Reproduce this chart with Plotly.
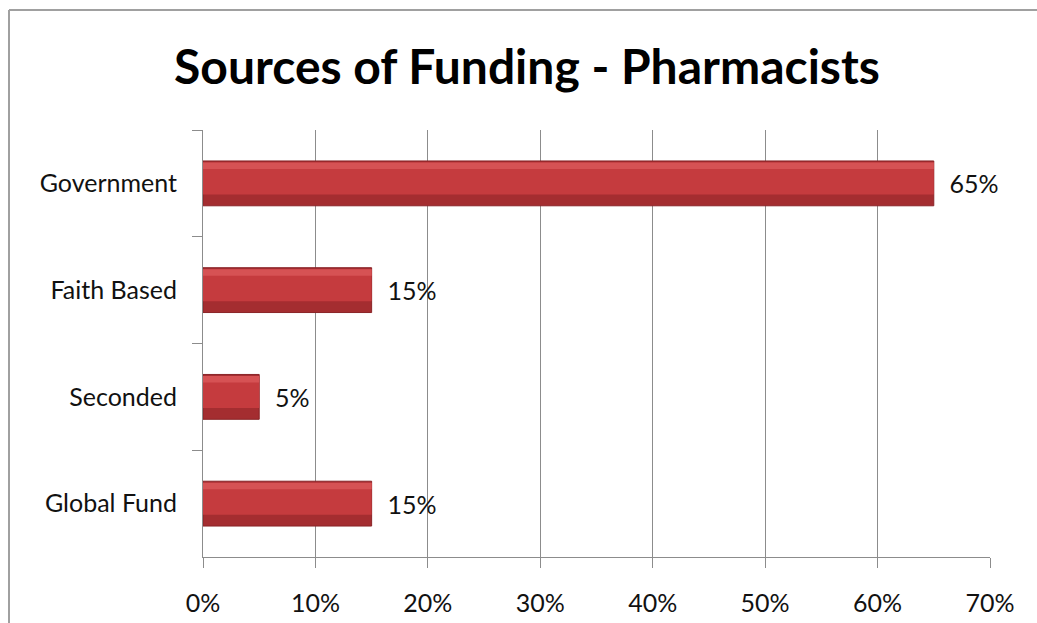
import plotly.graph_objects as go

categories = ["Government", "Faith Based", "Seconded", "Global Fund"]
values = [65, 15, 5, 15]
labels = ["65%", "15%", "5%", "15%"]
tick_vals = [0, 10, 20, 30, 40, 50, 60, 70]
tick_text = ["0%", "10%", "20%", "30%", "40%", "50%", "60%", "70%"]
title_text = "Sources of Funding - Pharmacists"

W, H = 1037, 623
L, R, T, B = 203, 47, 130, 66
pw, ph = W - L - R, H - T - B

def px(x):
    return (x - L) / pw

def py(y):
    return (H - B - y) / ph

BW = 0.42
fig = go.Figure()
# dark base (bottom shade)
fig.add_trace(go.Bar(
    y=categories, x=values, orientation="h", width=BW,
    marker=dict(color="#A42D30", line=dict(color="#8A2427", width=1)),
    text=labels, texttemplate="  %{text}", textposition="outside", cliponaxis=False,
    textfont=dict(family="Lato", size=25, color="#111111"),
    hoverinfo="skip", showlegend=False,
))
# main body
fig.add_trace(go.Bar(
    y=categories, x=values, orientation="h", width=0.30, offset=-BW / 2 + 0.015,
    marker=dict(color="#C53B3E", line=dict(width=0)),
    hoverinfo="skip", showlegend=False,
))
# top highlight
fig.add_trace(go.Bar(
    y=categories, x=values, orientation="h", width=0.06, offset=-BW / 2 + 0.015,
    marker=dict(color="#D65254", line=dict(width=0)),
    hoverinfo="skip", showlegend=False,
))

fig.update_layout(
    width=W, height=H,
    margin=dict(l=L, r=R, t=T, b=B, autoexpand=False),
    paper_bgcolor="white", plot_bgcolor="white",
    barmode="overlay",
    title=dict(text="<b>" + title_text + "</b>", x=px(527), xref="paper",
               xanchor="center", y=1 - 67 / H, yanchor="middle",
               font=dict(family="Lato", size=48, color="#000000")),
    font=dict(family="Lato", color="#111111"),
    xaxis=dict(range=[0, 70], tickvals=tick_vals, ticktext=tick_text,
               showgrid=True, gridcolor="#8C8C8C", gridwidth=1,
               showline=True, linecolor="#8C8C8C", linewidth=1,
               ticks="outside", ticklen=10, tickcolor="#8C8C8C",
               ticklabelstandoff=14, automargin=False,
               tickfont=dict(family="Lato", size=25, color="#111111"),
               zeroline=False, fixedrange=True),
    yaxis=dict(autorange="reversed", type="category",
               showline=True, linecolor="#8C8C8C", linewidth=1,
               ticks="outside", ticklen=10, tickcolor="#8C8C8C",
               tickson="boundaries", ticklabelstandoff=20, automargin=False,
               tickfont=dict(family="Lato", size=25, color="#111111"),
               showgrid=False, fixedrange=True),
    shapes=[
        dict(type="line", xref="paper", yref="paper",
             x0=px(9), x1=px(9), y0=py(H + 5), y1=py(10),
             line=dict(color="#A0A0A0", width=2)),
        dict(type="line", xref="paper", yref="paper",
             x0=px(9), x1=px(W + 5), y0=py(10), y1=py(10),
             line=dict(color="#A0A0A0", width=2)),
    ],
)

fig.write_html("out.html")
